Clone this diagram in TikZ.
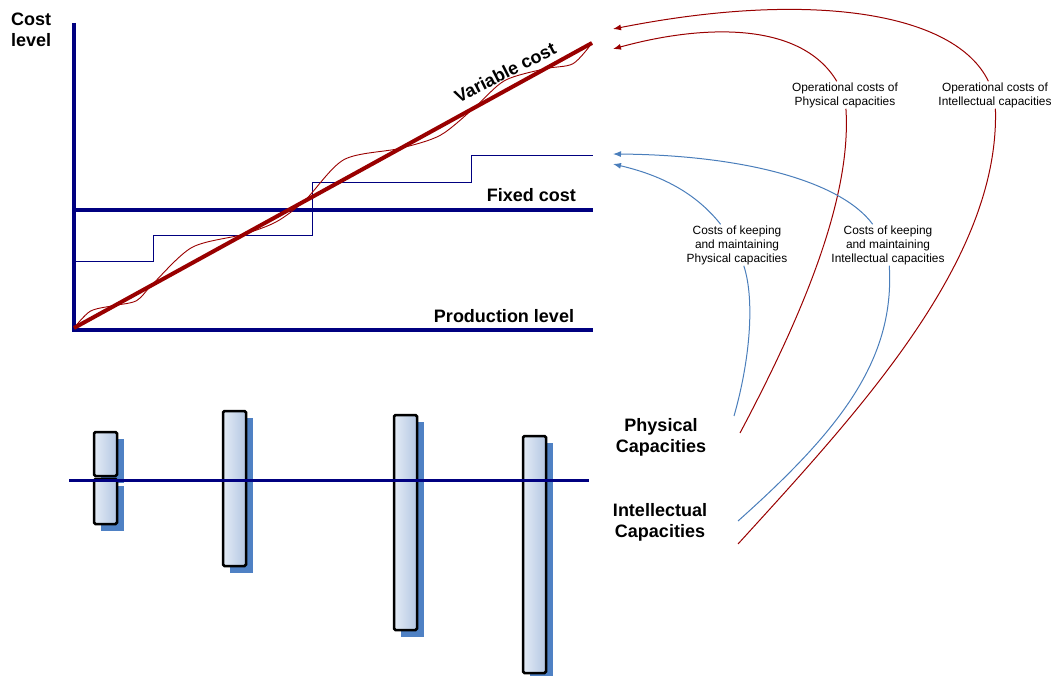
\documentclass[tikz,border=0pt]{standalone}
\usepackage{fontspec}
\setmainfont{Liberation Sans}
\usepackage{tikz}
\usetikzlibrary{arrows.meta,positioning,calc}
\definecolor{axisblue}{HTML}{000080}
\definecolor{costred}{HTML}{990000}
\definecolor{keepblue}{HTML}{4A7EBB}
\definecolor{barlight}{HTML}{E4ECF6}
\definecolor{bardark}{HTML}{B3C6E2}
\definecolor{barshadow}{HTML}{4F81C4}
\tikzset{every node/.append style={inner sep=0pt}}
\tikzset{bigtxt/.style={font=\fontsize{18}{20.5}\selectfont\bfseries, align=center},
    smalltxt/.style={font=\fontsize{11.9}{14}\selectfont, align=center, inner sep=1pt},
    axisline/.style={draw=axisblue, line width=3.5pt},
    opcost/.style={draw=costred, line width=1pt},
    keepcost/.style={draw=keepblue, line width=1pt},
    arrowhd/.style={-{Latex[length=8pt,width=6pt]}},
    capbox/.style={draw=black, line width=2.5pt, rounded corners=1.5pt, left color=barlight, right color=bardark},
    capshadow/.style={fill=barshadow}}

\begin{document}
\begin{tikzpicture}[x=1pt, y=-1pt]
        \useasboundingbox (0,0) rectangle (1054,676);
        % corners of the cost chart
        \coordinate (ytop) at (74,23);
        \coordinate (orig) at (74,330);
        \coordinate (xend) at (593,330);
        \coordinate (vstart) at (74,328);
        \coordinate (vend) at (592,43);
        \draw[axisline] (ytop) -- (orig) -- (xend);% draw the axes
        \draw[axisline] (74,210) -- (593,210);% fixed cost
        \draw[axisblue, line width=1pt] (74,262) -| (153,236) -| (312,183) -| (471,156) -- (593,156);% capacity steps
        \draw[costred, line width=0.9pt] plot[smooth] coordinates {(vstart) (90.3,311.2) (112.9,305.7)
            (136.5,300.7) (153,283.7) (192,247.4) (242.9,234.4) (276.3,221.8) (305,200.3)
            (344,159.6) (399.8,148.4) (440.4,135.2) (474.9,107.2) (504.8,80.5) (544.9,68.8)
            (573,63.7) (vend)};% real cost wave
        \draw[costred, line width=4pt] (vstart) -- (vend);% variable cost
        \node[bigtxt, rotate=27, anchor=base] (varlbl) at (508,78) {Variable cost};
        \node[bigtxt, anchor=east] (fixlbl) at (576,195.5) {Fixed cost};
        \node[bigtxt] (prodlbl) at (504,316.5) {Production level};
        \node[bigtxt, align=left, anchor=north west] (costlbl) at (11,13) {Cost\\level};
        % capacity bars with their shadows
        \fill[capshadow] (100.5,438.5) rectangle (123.5,482.5);
        \draw[capbox] (94,432) rectangle (117,476);
        \fill[capshadow] (100.5,485.5) rectangle (123.5,530.5);
        \draw[capbox] (94,479) rectangle (117,524);
        \fill[capshadow] (229.5,417.5) rectangle (252.5,572.5);
        \draw[capbox] (223,411) rectangle (246,566);
        \fill[capshadow] (400.5,421.5) rectangle (423.5,636.5);
        \draw[capbox] (394,415) rectangle (417,630);
        \fill[capshadow] (529.5,442.5) rectangle (552.5,676);
        \draw[capbox] (523,436) rectangle (546,673);
        \draw[axisline, line width=3pt] (69,480) -- (589,480);% capacity level
        % capacity labels
        \node[bigtxt] (physcap) at (661,437.5) {Physical\\Capacities};
        \node[bigtxt] (intcap) at (660,522.5) {Intellectual\\Capacities};
        \node[smalltxt] (opphys) at (845,95) {Operational costs of\\Physical capacities};
        \node[smalltxt] (opint) at (995,95) {Operational costs of\\Intellectual capacities};
        \node[smalltxt] (keepphys) at (737,245) {Costs of keeping\\and maintaining\\Physical capacities};
        \node[smalltxt] (keepint) at (888,245) {Costs of keeping\\and maintaining\\Intellectual capacities};
        % loose ends of the cost arrows
        \coordinate (s1) at (740,433);
        \coordinate (s2) at (738,544);
        \coordinate (s3) at (734,416);
        \coordinate (s4) at (738,521);
        \coordinate (e1) at (613,49);
        \coordinate (e2) at (613,29);
        \coordinate (e3) at (613,164);
        \coordinate (e4) at (613,154);
        % operational costs
        \draw[opcost] (s1) .. controls (800,320) and (852,200) .. (opphys);
        \draw[opcost, arrowhd] (opphys) .. controls (800,20) and (700,25) .. (e1);
        \draw[opcost] (s2) .. controls (860,410) and (1000,260) .. (opint);
        \draw[opcost, arrowhd] (opint) .. controls (955,12) and (810,-10) .. (e2);
        % keeping costs
        \draw[keepcost] (s3) .. controls (750,360) and (755,300) .. (keepphys);
        \draw[keepcost, arrowhd] (keepphys) .. controls (695,192) and (660,175) .. (e3);
        \draw[keepcost] (s4) .. controls (840,430) and (895,360) .. (keepint);
        \draw[keepcost, arrowhd] (keepint) .. controls (840,180) and (740,155) .. (e4);
\end{tikzpicture}
\end{document}
